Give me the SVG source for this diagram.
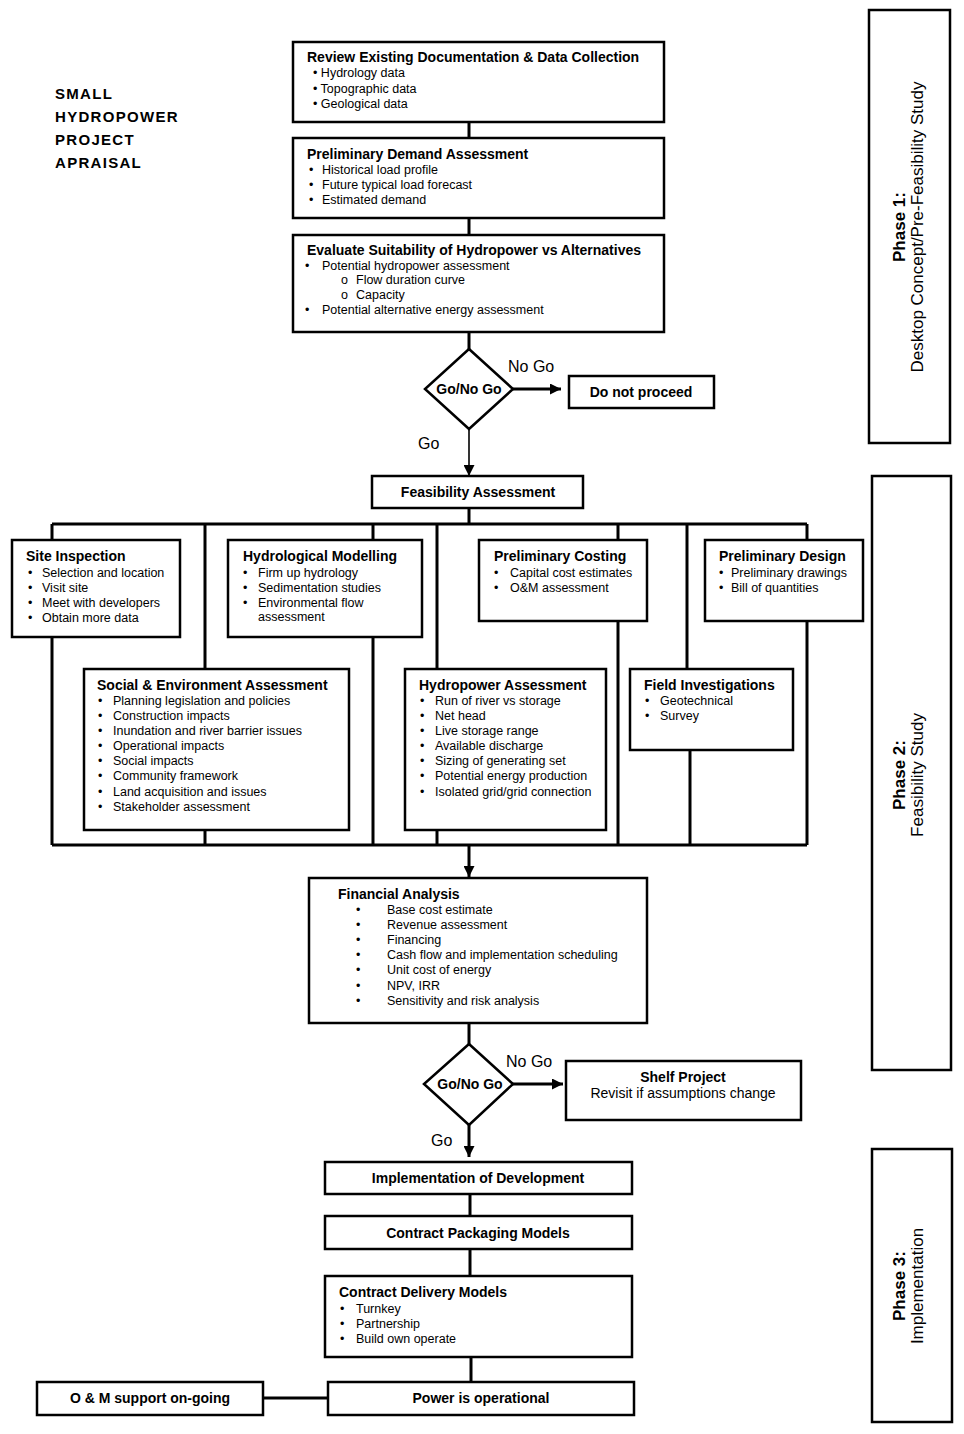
<svg xmlns="http://www.w3.org/2000/svg" width="964" height="1434" viewBox="0 0 964 1434">
<style>
.box{fill:#fff;stroke:#000;stroke-width:2.5}
text{font-family:"Liberation Sans",Arial,Helvetica,sans-serif;fill:#000}
.r{font-size:12.5px}
.b{font-size:14px;font-weight:bold}
.c{text-anchor:middle}
.lbl{font-size:16px}
.ttl{font-size:15px;font-weight:bold;letter-spacing:1.3px}
.ph{font-size:17px;text-anchor:middle}
.ln{stroke:#000;stroke-width:3;fill:none}
.thin{stroke-width:1.6}
</style>
<defs>
<marker id="ah" viewBox="0 0 10 10" refX="10" refY="5" markerWidth="11" markerHeight="11" markerUnits="userSpaceOnUse" orient="auto">
<path d="M0,0 L10,5 L0,10 z" fill="#000"/>
</marker>
</defs>
<rect width="964" height="1434" fill="#fff"/>

<g id="title">
<text class="ttl" x="55" y="99">SMALL</text>
<text class="ttl" x="55" y="122">HYDROPOWER</text>
<text class="ttl" x="55" y="145">PROJECT</text>
<text class="ttl" x="55" y="168">APRAISAL</text>
</g>

<g id="connectors">
<path class="ln" d="M469,122 V138"/>
<path class="ln" d="M469,218 V235"/>
<path class="ln" d="M469,332 V349"/>
<path class="ln" d="M513,389 H561" marker-end="url(#ah)"/>
<path class="ln thin" d="M469,429 V476" marker-end="url(#ah)"/>
<path class="ln" d="M469,508 V524"/>
<path class="ln" d="M52,524 H807"/>
<path class="ln" d="M52,524 V845"/>
<path class="ln" d="M205,524 V845"/>
<path class="ln" d="M373,524 V845"/>
<path class="ln" d="M437,524 V845"/>
<path class="ln" d="M618,524 V845"/>
<path class="ln" d="M687,524 V700"/>
<path class="ln" d="M690,740 V845"/>
<path class="ln" d="M807,524 V845"/>
<path class="ln" d="M52,845 H807"/>
<path class="ln" d="M469,845 V877" marker-end="url(#ah)"/>
<path class="ln" d="M469,1023 V1044"/>
<path class="ln" d="M512,1084 H563" marker-end="url(#ah)"/>
<path class="ln" d="M469,1125 V1157" marker-end="url(#ah)"/>
<path class="ln" d="M470,1194 V1216"/>
<path class="ln" d="M470,1249 V1276"/>
<path class="ln" d="M471,1357 V1382"/>
<path class="ln" d="M263,1398 H328"/>
<text class="lbl" x="508" y="372">No Go</text>
<text class="lbl" x="418" y="449">Go</text>
<text class="lbl" x="506" y="1067">No Go</text>
<text class="lbl" x="431" y="1146">Go</text>
</g>

<g id="review">
<rect class="box" x="293" y="42" width="371" height="80"/>
<text class="b" x="307" y="62">Review Existing Documentation &amp; Data Collection</text>
<text class="r" x="313" y="77">• Hydrology data</text>
<text class="r" x="313" y="93">• Topographic data</text>
<text class="r" x="313" y="108">• Geological data</text>
</g>

<g id="demand">
<rect class="box" x="293" y="138" width="371" height="80"/>
<text class="b" x="307" y="159">Preliminary Demand Assessment</text>
<text class="r" x="309" y="174">•</text><text class="r" x="322" y="174">Historical load profile</text>
<text class="r" x="309" y="189">•</text><text class="r" x="322" y="189">Future typical load forecast</text>
<text class="r" x="309" y="204">•</text><text class="r" x="322" y="204">Estimated demand</text>
</g>

<g id="evaluate">
<rect class="box" x="293" y="235" width="371" height="97"/>
<text class="b" x="307" y="255">Evaluate Suitability of Hydropower vs Alternatives</text>
<text class="r" x="305" y="270">•</text><text class="r" x="322" y="270">Potential hydropower assessment</text>
<text class="r" x="341" y="284">o</text><text class="r" x="356" y="284">Flow duration curve</text>
<text class="r" x="341" y="299">o</text><text class="r" x="356" y="299">Capacity</text>
<text class="r" x="305" y="314">•</text><text class="r" x="322" y="314">Potential alternative energy assessment</text>
</g>

<g id="decision1">
<polygon class="box" points="469,349 513,389 469,429 425,389"/>
<text class="b c" x="469" y="394">Go/No Go</text>
</g>

<g id="donotproceed">
<rect class="box" x="569" y="376" width="145" height="32"/>
<text class="b c" x="641" y="397">Do not proceed</text>
</g>

<g id="feasibility">
<rect class="box" x="372" y="476" width="211" height="32"/>
<text class="b c" x="478" y="497">Feasibility Assessment</text>
</g>

<g id="site">
<rect class="box" x="12" y="540" width="168" height="97"/>
<text class="b" x="26" y="561">Site Inspection</text>
<text class="r" x="28" y="577">•</text><text class="r" x="42" y="577">Selection and location</text>
<text class="r" x="28" y="592">•</text><text class="r" x="42" y="592">Visit site</text>
<text class="r" x="28" y="607">•</text><text class="r" x="42" y="607">Meet with developers</text>
<text class="r" x="28" y="622">•</text><text class="r" x="42" y="622">Obtain more data</text>
</g>

<g id="hydrological">
<rect class="box" x="228" y="540" width="194" height="97"/>
<text class="b" x="243" y="561">Hydrological Modelling</text>
<text class="r" x="243" y="577">•</text><text class="r" x="258" y="577">Firm up hydrology</text>
<text class="r" x="243" y="592">•</text><text class="r" x="258" y="592">Sedimentation studies</text>
<text class="r" x="243" y="607">•</text><text class="r" x="258" y="607">Environmental flow</text>
<text class="r" x="258" y="621">assessment</text>
</g>

<g id="costing">
<rect class="box" x="479" y="540" width="168" height="81"/>
<text class="b" x="494" y="561">Preliminary Costing</text>
<text class="r" x="494" y="577">•</text><text class="r" x="510" y="577">Capital cost estimates</text>
<text class="r" x="494" y="592">•</text><text class="r" x="510" y="592">O&amp;M assessment</text>
</g>

<g id="design">
<rect class="box" x="705" y="540" width="158" height="81"/>
<text class="b" x="719" y="561">Preliminary Design</text>
<text class="r" x="719" y="577">•</text><text class="r" x="731" y="577">Preliminary drawings</text>
<text class="r" x="719" y="592">•</text><text class="r" x="731" y="592">Bill of quantities</text>
</g>

<g id="social">
<rect class="box" x="84" y="669" width="265" height="161"/>
<text class="b" x="97" y="690">Social &amp; Environment Assessment</text>
<text class="r" x="98" y="705">•</text><text class="r" x="113" y="705">Planning legislation and policies</text>
<text class="r" x="98" y="720">•</text><text class="r" x="113" y="720">Construction impacts</text>
<text class="r" x="98" y="735">•</text><text class="r" x="113" y="735">Inundation and river barrier issues</text>
<text class="r" x="98" y="750">•</text><text class="r" x="113" y="750">Operational impacts</text>
<text class="r" x="98" y="765">•</text><text class="r" x="113" y="765">Social impacts</text>
<text class="r" x="98" y="780">•</text><text class="r" x="113" y="780">Community framework</text>
<text class="r" x="98" y="796">•</text><text class="r" x="113" y="796">Land acquisition and issues</text>
<text class="r" x="98" y="811">•</text><text class="r" x="113" y="811">Stakeholder assessment</text>
</g>

<g id="hydropower">
<rect class="box" x="405" y="669" width="201" height="161"/>
<text class="b" x="419" y="690">Hydropower Assessment</text>
<text class="r" x="420" y="705">•</text><text class="r" x="435" y="705">Run of river vs storage</text>
<text class="r" x="420" y="720">•</text><text class="r" x="435" y="720">Net head</text>
<text class="r" x="420" y="735">•</text><text class="r" x="435" y="735">Live storage range</text>
<text class="r" x="420" y="750">•</text><text class="r" x="435" y="750">Available discharge</text>
<text class="r" x="420" y="765">•</text><text class="r" x="435" y="765">Sizing of generating set</text>
<text class="r" x="420" y="780">•</text><text class="r" x="435" y="780">Potential energy production</text>
<text class="r" x="420" y="796">•</text><text class="r" x="435" y="796">Isolated grid/grid connection</text>
</g>

<g id="field">
<rect class="box" x="630" y="669" width="163" height="81"/>
<text class="b" x="644" y="690">Field Investigations</text>
<text class="r" x="645" y="705">•</text><text class="r" x="660" y="705">Geotechnical</text>
<text class="r" x="645" y="720">•</text><text class="r" x="660" y="720">Survey</text>
</g>

<g id="financial">
<rect class="box" x="309" y="878" width="338" height="145"/>
<text class="b" x="338" y="899">Financial Analysis</text>
<text class="r" x="356" y="914">•</text><text class="r" x="387" y="914">Base cost estimate</text>
<text class="r" x="356" y="929">•</text><text class="r" x="387" y="929">Revenue assessment</text>
<text class="r" x="356" y="944">•</text><text class="r" x="387" y="944">Financing</text>
<text class="r" x="356" y="959">•</text><text class="r" x="387" y="959">Cash flow and implementation scheduling</text>
<text class="r" x="356" y="974">•</text><text class="r" x="387" y="974">Unit cost of energy</text>
<text class="r" x="356" y="990">•</text><text class="r" x="387" y="990">NPV, IRR</text>
<text class="r" x="356" y="1005">•</text><text class="r" x="387" y="1005">Sensitivity and risk analysis</text>
</g>

<g id="decision2">
<polygon class="box" points="469,1044 513,1084 469,1125 424,1084"/>
<text class="b c" x="470" y="1089">Go/No Go</text>
</g>

<g id="shelf">
<rect class="box" x="566" y="1061" width="235" height="59"/>
<text class="b c" x="683" y="1082">Shelf Project</text>
<text class="c" style="font-size:14px" x="683" y="1098">Revisit if assumptions change</text>
</g>

<g id="implementation">
<rect class="box" x="325" y="1162" width="307" height="32"/>
<text class="b c" x="478" y="1183">Implementation of Development</text>
</g>

<g id="packaging">
<rect class="box" x="325" y="1216" width="307" height="33"/>
<text class="b c" x="478" y="1238">Contract Packaging Models</text>
</g>

<g id="delivery">
<rect class="box" x="325" y="1276" width="307" height="81"/>
<text class="b" x="339" y="1297">Contract Delivery Models</text>
<text class="r" x="340" y="1313">•</text><text class="r" x="356" y="1313">Turnkey</text>
<text class="r" x="340" y="1328">•</text><text class="r" x="356" y="1328">Partnership</text>
<text class="r" x="340" y="1343">•</text><text class="r" x="356" y="1343">Build own operate</text>
</g>

<g id="operational">
<rect class="box" x="328" y="1382" width="306" height="33"/>
<text class="b c" x="481" y="1403">Power is operational</text>
</g>

<g id="om">
<rect class="box" x="37" y="1382" width="226" height="33"/>
<text class="b c" x="150" y="1403">O &amp; M support on-going</text>
</g>

<g id="phase1">
<rect class="box" x="869" y="10" width="81" height="433"/>
<text class="ph" transform="translate(905,227) rotate(-90)" font-weight="bold">Phase 1:</text>
<text class="ph" transform="translate(923,227) rotate(-90)">Desktop Concept/Pre-Feasibility Study</text>
</g>

<g id="phase2">
<rect class="box" x="872" y="476" width="79" height="594"/>
<text class="ph" transform="translate(905,775) rotate(-90)" font-weight="bold">Phase 2:</text>
<text class="ph" transform="translate(923,775) rotate(-90)">Feasibility Study</text>
</g>

<g id="phase3">
<rect class="box" x="872" y="1149" width="80" height="273"/>
<text class="ph" transform="translate(905,1286) rotate(-90)" font-weight="bold">Phase 3:</text>
<text class="ph" transform="translate(923,1286) rotate(-90)">Implementation</text>
</g>
</svg>
